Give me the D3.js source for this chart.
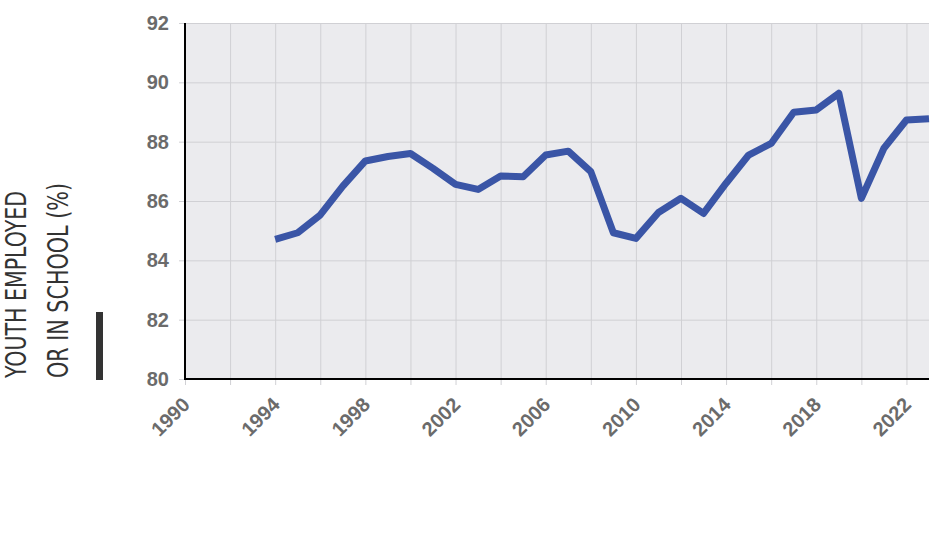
<!DOCTYPE html>
<html>
<head>
<meta charset="utf-8">
<script src="https://cdn.jsdelivr.net/npm/d3@7"></script>
<style>
  body { margin: 0; background: #fff; }
  .tick-label { font-family: "Liberation Sans", Arial, sans-serif; font-weight: bold; fill: #6b6b6b; }
</style>
</head>
<body>
<div id="chart"></div>
<script>
// data
var years = [1994, 1995, 1996, 1997, 1998, 1999, 2000, 2001, 2002, 2003, 2004, 2005, 2006, 2007,
             2008, 2009, 2010, 2011, 2012, 2013, 2014, 2015, 2016, 2017, 2018, 2019, 2020, 2021, 2022, 2023];
var shares = [84.71, 84.93, 85.53, 86.5, 87.35, 87.5, 87.6, 87.1, 86.56, 86.39, 86.84, 86.82, 87.55, 87.68,
              86.99, 84.93, 84.74, 85.61, 86.09, 85.58, 86.6, 87.55, 87.94, 88.99, 89.07, 89.63, 86.09, 87.78, 88.73, 88.77];
var xTicks = [1990, 1994, 1998, 2002, 2006, 2010, 2014, 2018, 2022];
var yTicks = [80, 82, 84, 86, 88, 90, 92];
var titleLines = ["YOUTH EMPLOYED", "OR IN SCHOOL (%)"];

var svgWidth = 950;
var svgHeight = 540;
var margin = { top: 23, right: 21, bottom: 161, left: 185 };
var width = svgWidth - margin.left - margin.right;
var height = svgHeight - margin.top - margin.bottom;

var svg = d3.select("#chart")
  .append("svg")
  .attr("width", svgWidth)
  .attr("height", svgHeight);

var chartGroup = svg.append("g")
  .attr("transform", `translate(${margin.left}, ${margin.top})`);

var xScale = d3.scaleLinear().domain([1990, 2023]).range([0, width]);
var yScale = d3.scaleLinear().domain([80, 92]).range([height, 0]);

// panel background
chartGroup.append("rect")
  .attr("width", width)
  .attr("height", height)
  .attr("fill", "#ebebee");

// grid lines every 2 years / every 2 points, sticking out a little as ticks
var gridYears = d3.range(1990, 2024, 2);
chartGroup.append("g")
  .attr("transform", `translate(0, ${height})`)
  .call(d3.axisBottom(xScale).tickValues(gridYears).tickSize(-height - 6).tickFormat(""))
  .call(g => g.select(".domain").remove())
  .call(g => g.selectAll(".tick line").attr("stroke", "#d0d0d4").attr("transform", "translate(0,6)"));

chartGroup.append("g")
  .call(d3.axisLeft(yScale).tickValues(yTicks).tickSize(-width - 6).tickFormat(""))
  .call(g => g.select(".domain").remove())
  .call(g => g.selectAll(".tick line").attr("stroke", "#d0d0d4").attr("transform", "translate(-6,0)"));

// y tick labels
chartGroup.append("g")
  .selectAll("text")
  .data(yTicks)
  .enter()
  .append("text")
  .attr("class", "tick-label")
  .attr("x", -16)
  .attr("y", d => yScale(d) + 7)
  .attr("text-anchor", "end")
  .attr("font-size", "20px")
  .text(d => d);

// x tick labels, rotated
chartGroup.append("g")
  .selectAll("text")
  .data(xTicks)
  .enter()
  .append("text")
  .attr("class", "tick-label")
  .attr("text-anchor", "end")
  .attr("font-size", "20px")
  .attr("transform", d => `translate(${xScale(d) + 6}, ${height + 27}) rotate(-45)`)
  .text(d => d);

// axis lines
chartGroup.append("line")
  .attr("x1", 0).attr("x2", 0)
  .attr("y1", 0).attr("y2", height + 1)
  .attr("stroke", "#000").attr("stroke-width", 2);
chartGroup.append("line")
  .attr("x1", 0).attr("x2", width)
  .attr("y1", height).attr("y2", height)
  .attr("stroke", "#000").attr("stroke-width", 2);

// the series
var lineData = years.map((y, i) => ({ year: y, value: shares[i] }));
var line = d3.line()
  .x(d => xScale(d.year))
  .y(d => yScale(d.value));

chartGroup.append("path")
  .datum(lineData)
  .attr("d", line)
  .attr("fill", "none")
  .attr("stroke", "#3a55a6")
  .attr("stroke-width", 7)
  .attr("stroke-linejoin", "round");

// y title
var title = svg.append("g")
  .attr("transform", "translate(0, 378) rotate(-90)");
title.selectAll("text")
  .data(titleLines)
  .enter()
  .append("text")
  .attr("x", 0)
  .attr("y", (d, i) => 26 + i * 42)
  .attr("font-family", "'DejaVu Sans Condensed', 'DejaVu Sans', sans-serif")
  .attr("font-stretch", "condensed")
  .attr("font-weight", 300)
  .attr("font-size", "28px")
  .attr("fill", "#333")
  .attr("textLength", (d, i) => i === 0 ? 187 : 195)
  .attr("lengthAdjust", "spacingAndGlyphs")
  .text(d => d);

svg.append("rect")
  .attr("x", 96)
  .attr("y", 312)
  .attr("width", 7)
  .attr("height", 68)
  .attr("fill", "#333");
</script>
</body>
</html>
